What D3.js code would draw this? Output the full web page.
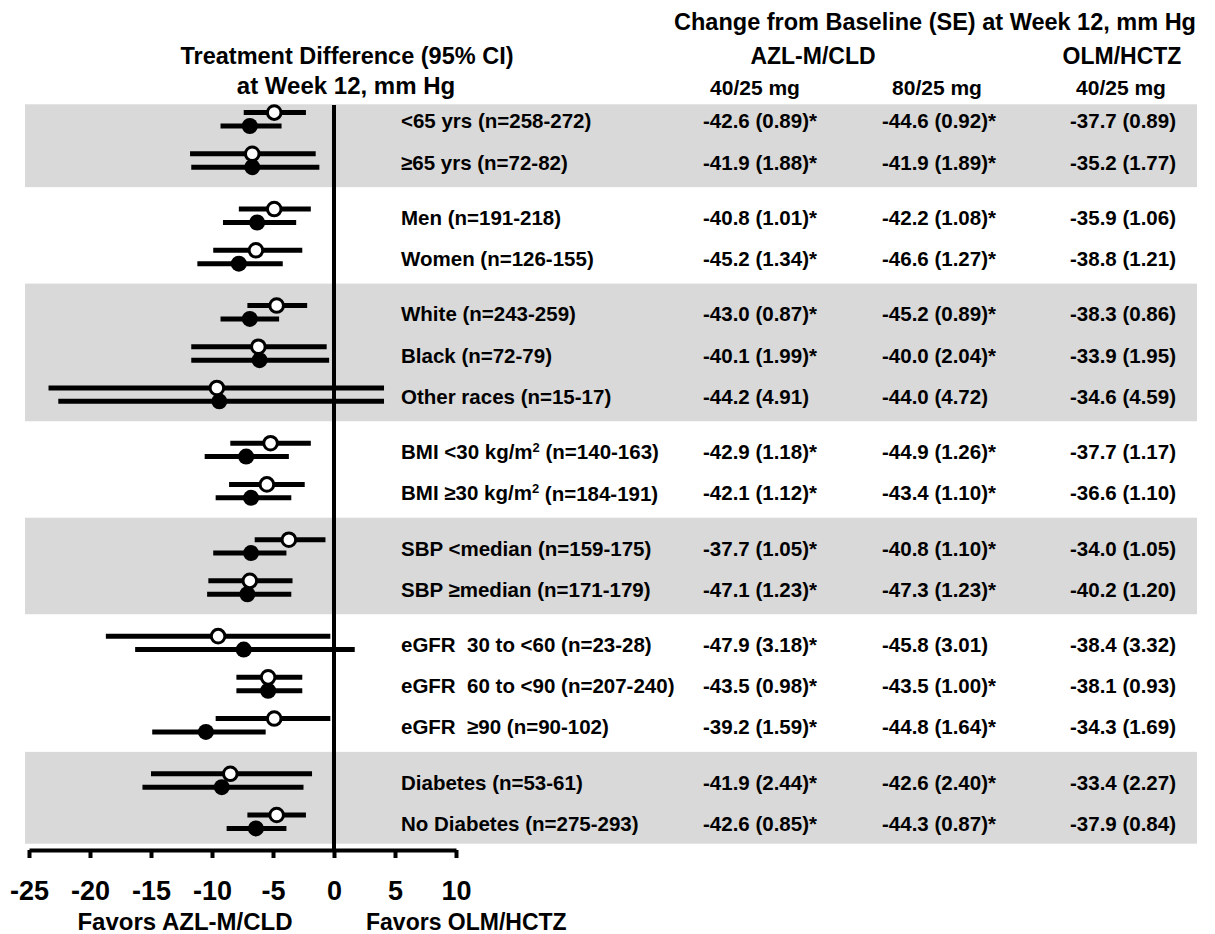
<!DOCTYPE html>
<html>
<head>
<meta charset="utf-8">
<script src="https://cdn.jsdelivr.net/npm/d3@7"></script>
<style>
  body { margin: 0; background: #fff; }
  svg text { font-family: "Liberation Sans", Arial, sans-serif; font-weight: bold; fill: #000; white-space: pre; }
</style>
</head>
<body>
<svg id="chart"></svg>
<script>
const width = 1215, height = 934;

// Subgroups, top to bottom
const subgroups = ["<65 yrs (n=258-272)", "≥65 yrs (n=72-82)",
  "Men (n=191-218)", "Women (n=126-155)",
  "White (n=243-259)", "Black (n=72-79)", "Other races (n=15-17)",
  "BMI <30 kg/m² (n=140-163)", "BMI ≥30 kg/m² (n=184-191)",
  "SBP <median (n=159-175)", "SBP ≥median (n=171-179)",
  "eGFR  30 to <60 (n=23-28)", "eGFR  60 to <90 (n=207-240)", "eGFR  ≥90 (n=90-102)",
  "Diabetes (n=53-61)", "No Diabetes (n=275-293)"];
const groupIndex = [0, 0, 1, 1, 2, 2, 2, 3, 3, 4, 4, 5, 5, 5, 6, 6];
const shadedGroups = [0, 2, 4, 6];

// Treatment difference vs OLM/HCTZ: AZL-M/CLD 40/25 (open) and 80/25 (filled)
const diff40 = [-4.9, -6.7, -4.9, -6.4, -4.7, -6.2, -9.6, -5.2, -5.5, -3.7, -6.9, -9.5, -5.4, -4.9, -8.5, -4.7];
const lo40 = [-7.4, -11.8, -7.8, -9.9, -7.1, -11.7, -23.4, -8.5, -8.6, -6.5, -10.3, -18.7, -8.0, -9.7, -15.0, -7.1];
const hi40 = [-2.3, -1.5, -1.9, -2.6, -2.2, -0.6, 4.1, -1.9, -2.4, -0.7, -3.4, -0.3, -2.6, -0.3, -1.8, -2.3];
const diff80 = [-6.9, -6.7, -6.3, -7.8, -6.9, -6.1, -9.4, -7.2, -6.8, -6.8, -7.1, -7.4, -5.4, -10.5, -9.2, -6.4];
const lo80 = [-9.3, -11.7, -9.1, -11.2, -9.3, -11.7, -22.6, -10.6, -9.7, -9.9, -10.4, -16.3, -8.0, -14.9, -15.7, -8.8];
const hi80 = [-4.3, -1.2, -3.1, -4.2, -4.5, -0.4, 4.1, -3.7, -3.5, -3.9, -3.5, 1.7, -2.6, -5.6, -2.5, -3.9];

// Change from baseline (SE) columns
const colAzl40 = ["-42.6 (0.89)*", "-41.9 (1.88)*", "-40.8 (1.01)*", "-45.2 (1.34)*", "-43.0 (0.87)*", "-40.1 (1.99)*", "-44.2 (4.91)",
  "-42.9 (1.18)*", "-42.1 (1.12)*", "-37.7 (1.05)*", "-47.1 (1.23)*", "-47.9 (3.18)*", "-43.5 (0.98)*", "-39.2 (1.59)*", "-41.9 (2.44)*", "-42.6 (0.85)*"];
const colAzl80 = ["-44.6 (0.92)*", "-41.9 (1.89)*", "-42.2 (1.08)*", "-46.6 (1.27)*", "-45.2 (0.89)*", "-40.0 (2.04)*", "-44.0 (4.72)",
  "-44.9 (1.26)*", "-43.4 (1.10)*", "-40.8 (1.10)*", "-47.3 (1.23)*", "-45.8 (3.01)", "-43.5 (1.00)*", "-44.8 (1.64)*", "-42.6 (2.40)*", "-44.3 (0.87)*"];
const colOlm40 = ["-37.7 (0.89)", "-35.2 (1.77)", "-35.9 (1.06)", "-38.8 (1.21)", "-38.3 (0.86)", "-33.9 (1.95)", "-34.6 (4.59)",
  "-37.7 (1.17)", "-36.6 (1.10)", "-34.0 (1.05)", "-40.2 (1.20)", "-38.4 (3.32)", "-38.1 (0.93)", "-34.3 (1.69)", "-33.4 (2.27)", "-37.9 (0.84)"];

const xTicks = [-25, -20, -15, -10, -5, 0, 5, 10];

const svg = d3.select("#chart").attr("width", width).attr("height", height);

// Scales
const x = d3.scaleLinear().domain([-25, 10]).range([29, 456]);
const gapSlots = 0.342; // extra spacing between subgroup blocks
const slot = subgroups.map((d, i) => i + groupIndex[i] * gapSlots);
const y = d3.scaleLinear().domain([0, d3.max(slot)]).range([119.3, 821.7]);
const pairOffset = 6.7;

// Shaded bands
function groupEdges(g) {
  const rows = d3.range(subgroups.length).filter(i => groupIndex[i] === g);
  const first = rows[0], last = rows[rows.length - 1];
  const top = first === 0 ? y(slot[0]) - 15 : (y(slot[first - 1]) + y(slot[first])) / 2 - 1;
  const bottom = last === subgroups.length - 1 ? y(slot[last]) + 22 : (y(slot[last]) + y(slot[last + 1])) / 2 - 1;
  return [top, bottom];
}
svg.append("g").selectAll("rect")
  .data(shadedGroups)
  .join("rect")
  .attr("x", 25)
  .attr("width", 1197 - 25)
  .attr("y", g => groupEdges(g)[0])
  .attr("height", g => groupEdges(g)[1] - groupEdges(g)[0])
  .attr("fill", "#d9d9d9");

// Axis
const axis = svg.append("g")
  .attr("transform", "translate(0,850)")
  .call(d3.axisBottom(x).tickValues(xTicks).tickSize(8).tickSizeOuter(0).tickPadding(23));
axis.select(".domain").attr("stroke", "#000").attr("stroke-width", 4);
axis.selectAll(".tick line").attr("stroke", "#000").attr("stroke-width", 4);
axis.selectAll(".tick text")
  .style("font-family", "'Liberation Sans', Arial, sans-serif")
  .style("font-weight", "bold")
  .style("font-size", "27px")
  .attr("fill", "#000")
  .text(d => d < 0 ? "-" + Math.abs(d) : d);

// Zero line
svg.append("line")
  .attr("x1", x(0)).attr("x2", x(0))
  .attr("y1", 105).attr("y2", 852)
  .attr("stroke", "#000").attr("stroke-width", 4);

// CI lines and points
const rowsG = svg.append("g");
const idx = d3.range(subgroups.length);
function drawSeries(est, lo, hi, dy, filled) {
  const gS = rowsG.append("g");
  gS.selectAll("line")
    .data(idx)
    .join("line")
    .attr("x1", i => x(lo[i]))
    .attr("x2", i => x(hi[i]))
    .attr("y1", i => y(slot[i]) + dy)
    .attr("y2", i => y(slot[i]) + dy)
    .attr("stroke", "#000")
    .attr("stroke-width", 5);
  gS.selectAll("circle")
    .data(idx)
    .join("circle")
    .attr("cx", i => x(est[i]))
    .attr("cy", i => y(slot[i]) + dy)
    .attr("r", filled ? 8 : 6.8)
    .attr("fill", filled ? "#000" : "#fff")
    .attr("stroke", "#000")
    .attr("stroke-width", filled ? 0 : 3);
}
drawSeries(diff80, lo80, hi80, pairOffset, true);
drawSeries(diff40, lo40, hi40, -pairOffset, false);

// Subgroup labels
const labels = svg.append("g").selectAll("text")
  .data(idx)
  .join("text")
  .attr("x", 401)
  .attr("y", i => y(slot[i]) + 2)
  .attr("dy", "0.35em")
  .style("font-size", "20.5px");
labels.each(function(i) {
  const parts = subgroups[i].split("²");
  const t = d3.select(this);
  if (parts.length === 1) { t.text(parts[0]); return; }
  t.append("tspan").text(parts[0]);
  t.append("tspan").text("2").style("font-size", "13px").attr("dy", "-0.55em");
  t.append("tspan").text(parts[1]).attr("dy", "0.36em");
});

// Value columns
const columns = [[colAzl40, 703], [colAzl80, 882], [colOlm40, 1070]];
columns.forEach(([vals, cx]) => {
  svg.append("g").selectAll("text")
    .data(idx)
    .join("text")
    .attr("x", cx)
    .attr("y", i => y(slot[i]) + 2)
    .attr("dy", "0.35em")
    .style("font-size", "20.5px")
    .text(i => vals[i]);
});

// Headers
const header = svg.append("g");
header.append("text").attr("x", 935).attr("y", 30).attr("text-anchor", "middle").style("font-size", "23.5px")
  .text("Change from Baseline (SE) at Week 12, mm Hg");
header.append("text").attr("x", 813).attr("y", 64).attr("text-anchor", "middle").style("font-size", "23px").text("AZL-M/CLD");
header.append("text").attr("x", 1122).attr("y", 64).attr("text-anchor", "middle").style("font-size", "23px").text("OLM/HCTZ");
header.selectAll(".dose")
  .data([["40/25 mg", 755], ["80/25 mg", 937], ["40/25 mg", 1121]])
  .join("text")
  .attr("x", d => d[1]).attr("y", 95).attr("text-anchor", "middle").style("font-size", "21px")
  .text(d => d[0]);
header.append("text").attr("x", 347).attr("y", 64).attr("text-anchor", "middle").style("font-size", "23.5px")
  .text("Treatment Difference (95% CI)");
header.append("text").attr("x", 346).attr("y", 94).attr("text-anchor", "middle").style("font-size", "24px")
  .text("at Week 12, mm Hg");

// Favors labels
svg.append("text").attr("x", 185).attr("y", 930).attr("text-anchor", "middle").style("font-size", "24px").text("Favors AZL-M/CLD");
svg.append("text").attr("x", 366).attr("y", 930).style("font-size", "23px").text("Favors OLM/HCTZ");
</script>
</body>
</html>
